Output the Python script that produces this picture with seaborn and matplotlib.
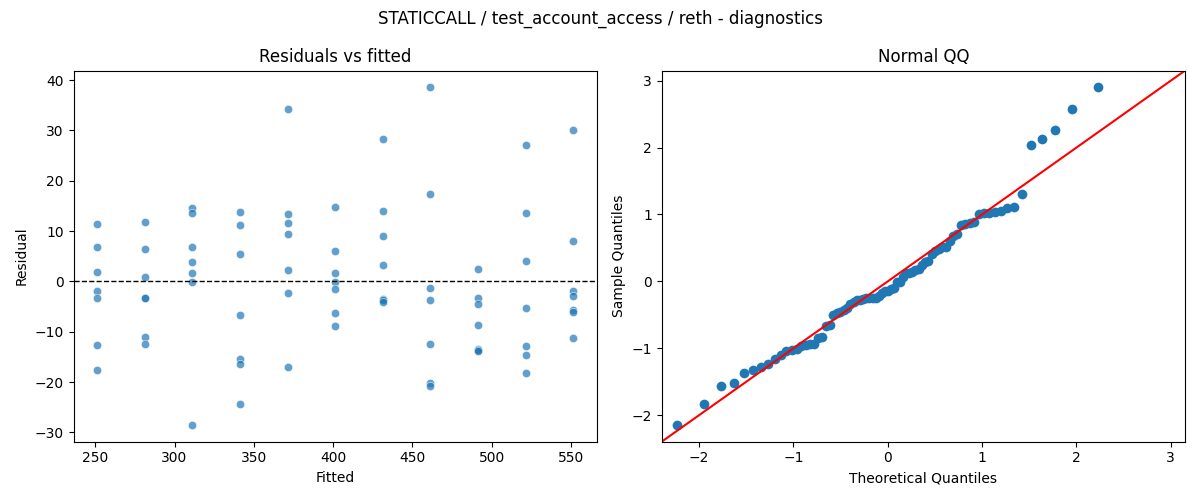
import numpy as np
import pandas as pd
import matplotlib
matplotlib.use("Agg")
import matplotlib.pyplot as plt
import seaborn as sns
from statistics import NormalDist

# Fitted values (group centres) and residuals
fitted_levels = [251.3, 281.3, 311.3, 341.3, 371.3, 401.3, 431.3, 461.3, 491.3, 521.3, 551.3]
resid_251 = [11.37, 6.81, 1.85, -1.85, -3.24, -12.56, -17.58]
resid_281 = [11.76, 6.41, 0.86, -3.24, -3.37, -11.04, -12.43]
resid_311 = [14.54, 13.68, 6.81, 3.83, 1.65, -0.13, -28.49]
resid_341 = [13.75, 11.17, 5.42, -6.68, -15.33, -16.39, -24.32]
resid_371 = [34.17, 13.42, 11.63, 9.39, 2.31, -2.25, -16.92]
resid_401 = [14.80, 6.08, 1.72, -0.20, -1.52, -6.28, -8.79]
resid_431 = [28.35, 14.08, 9.12, 3.24, -3.50, -3.65, -4.10]
resid_461 = [38.53, 17.45, -1.39, -3.77, -12.43, -20.09, -20.75]
resid_491 = [2.45, -3.30, -4.56, -8.66, -13.35, -13.55, -13.81]
resid_521 = [27.16, 13.68, 3.97, -5.35, -12.89, -14.67, -18.24]
resid_551 = [30.0, 8.0, -1.92, -2.97, -5.68, -6.01, -11.30]

groups = [resid_251, resid_281, resid_311, resid_341, resid_371, resid_401,
          resid_431, resid_461, resid_491, resid_521, resid_551]

rows = []
for f, g in zip(fitted_levels, groups):
    for r in g:
        rows.append((f, r))
df = pd.DataFrame(rows, columns=["fitted", "resid"])

# QQ data derived from residuals (standardised, statsmodels-style plotting positions)
res = df["resid"].to_numpy()
std_res = np.sort((res - res.mean()) / res.std(ddof=0))
n = len(std_res)
nd = NormalDist()
theo = np.array([nd.inv_cdf(i / (n + 1)) for i in range(1, n + 1)])
qq = pd.DataFrame({"theo": theo, "sample": std_res})

fig, (ax1, ax2) = plt.subplots(1, 2, figsize=(12, 5), dpi=100)

sns.scatterplot(data=df, x="fitted", y="resid", ax=ax1, alpha=0.7, color="#1f77b4",
                s=36, edgecolor="white", linewidth=0.5)
ax1.axhline(0, color="black", linestyle="--", linewidth=1)
ax1.set_title("Residuals vs fitted")
ax1.set_xlabel("Fitted")
ax1.set_ylabel("Residual")

sns.scatterplot(data=qq, x="theo", y="sample", ax=ax2, color="#1f77b4", s=49, linewidth=0)
span = std_res.max() - std_res.min()
lims = [std_res.min() - 0.05 * span, std_res.max() + 0.05 * span]
ax2.plot(lims, lims, color="red", linewidth=1.5)
ax2.set_xlim(lims)
ax2.set_ylim(lims)
ax2.set_title("Normal QQ")
ax2.set_xlabel("Theoretical Quantiles")
ax2.set_ylabel("Sample Quantiles")

fig.suptitle("STATICCALL / test_account_access / reth - diagnostics")
fig.tight_layout()
fig.savefig("out.png", dpi=100)
